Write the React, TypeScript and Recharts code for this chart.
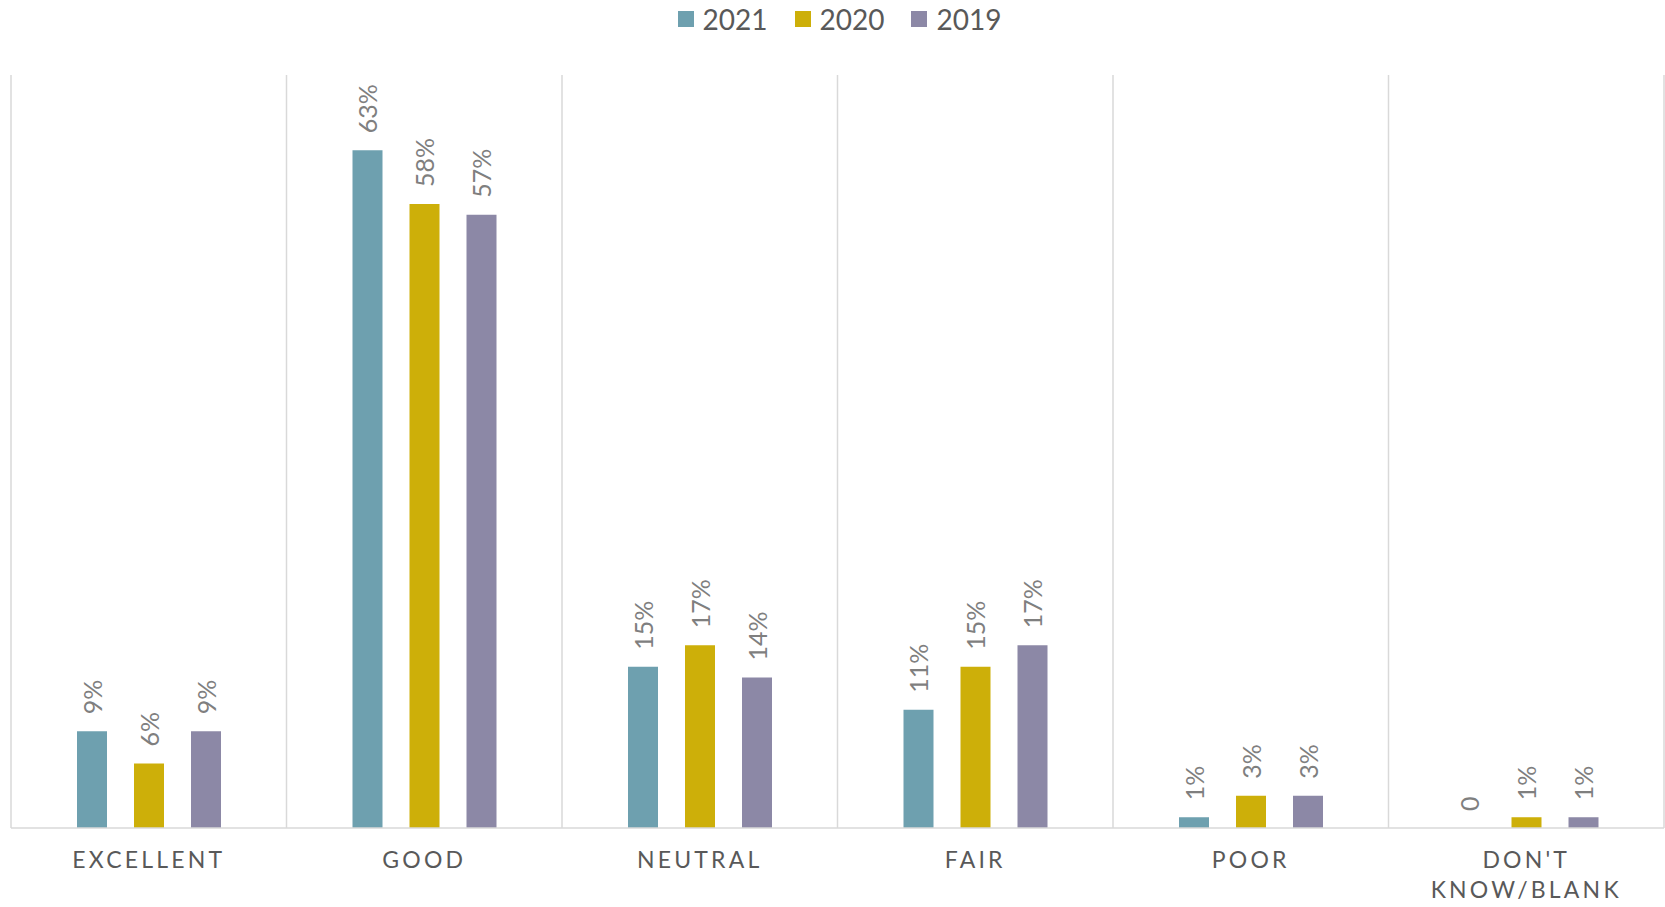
import React from "react";
import { BarChart, Bar, XAxis, YAxis, CartesianGrid, Legend, LabelList } from "recharts";

const categories = ["EXCELLENT", "GOOD", "NEUTRAL", "FAIR", "POOR", "DON'T KNOW/BLANK"];
const values2021 = [9, 63, 15, 11, 1, 0];
const values2020 = [6, 58, 17, 15, 3, 1];
const values2019 = [9, 57, 14, 17, 3, 1];
const seriesNames = ["2021", "2020", "2019"];
const seriesColors = ["#6EA0AF", "#CDAF09", "#8C88A6"];

const data = categories.map((c, i) => ({
  name: c,
  y2021: values2021[i],
  y2020: values2020[i],
  y2019: values2019[i],
}));

const FONT = "Lato, 'Open Sans', sans-serif";

const renderLabel = (props: any) => {
  const { x, y, width, value } = props;
  if (value === undefined || value === null) return null;
  const cx = Number(x) + Number(width) / 2;
  const ty = Number(y) - 17;
  const text = Number(value) === 0 ? "0" : `${value}%`;
  return (
    <text
      x={cx}
      y={ty}
      transform={`rotate(-90, ${cx}, ${ty})`}
      textAnchor="start"
      dominantBaseline="central"
      fill="#7F7F7F"
      fontSize={25}
      fontFamily={FONT}
    >
      {text}
    </text>
  );
};

const renderTick = (props: any) => {
  const { x, payload } = props;
  const label: string = payload.value;
  const lines = label.includes(" ") ? label.split(" ") : [label];
  return (
    <g>
      {lines.map((ln, i) => (
        <text
          key={i}
          x={x}
          y={828 + 31 + i * 30}
          textAnchor="middle"
          dominantBaseline="central"
          fill="#595959"
          fontSize={23}
          letterSpacing={3.2}
          fontFamily={FONT}
        >
          {ln}
        </text>
      ))}
    </g>
  );
};

const renderLegend = () => (
  <div
    style={{
      display: "flex",
      justifyContent: "center",
      alignItems: "center",
      height: 38,
      fontFamily: FONT,
      fontSize: 28,
      color: "#595959",
      paddingLeft: 14,
    }}
  >
    {seriesNames.map((n, i) => (
      <div key={n} style={{ display: "flex", alignItems: "center", marginRight: i < 2 ? 27 : 0 }}>
        <div style={{ width: 16, height: 16, background: seriesColors[i], marginRight: 9 }} />
        <span style={{ lineHeight: "38px" }}>{n}</span>
      </div>
    ))}
  </div>
);

export default function App() {
  return (
    <div style={{ position: "absolute", left: 0, top: 0, width: 1665, height: 907, background: "#fff" }}>
      <BarChart
        width={1665}
        height={907}
        data={data}
        margin={{ top: 75, left: 11, right: 1, bottom: 0 }}
        barGap={27}
        barSize={30}
      >
        <CartesianGrid
          horizontal={false}
          vertical={true}
          stroke="#D9D9D9"
          strokeWidth={1.5}
          verticalCoordinatesGenerator={({ offset }: any) =>
            categories.map((_, i) => offset.left + (i * offset.width) / categories.length).concat([offset.left + offset.width])
          }
        />
        <XAxis
          dataKey="name"
          height={79}
          axisLine={{ stroke: "#D9D9D9", strokeWidth: 1.5 }}
          tickLine={false}
          tick={renderTick}
          interval={0}
        />
        <YAxis hide domain={[0, 70]} />
        <Legend
          layout="horizontal"
          verticalAlign="middle"
          align="center"
          content={renderLegend}
          wrapperStyle={{ top: 0, left: 0, width: 1665, height: 38 }}
        />
        <Bar
          dataKey="y2021"
          name="2021"
          fill={seriesColors[0]}
          isAnimationActive={false}
          minPointSize={(v: any) => (Number(v) === 0 ? 0.01 : 0)}
        >
          <LabelList dataKey="y2021" content={renderLabel} />
        </Bar>
        <Bar dataKey="y2020" name="2020" fill={seriesColors[1]} isAnimationActive={false}>
          <LabelList dataKey="y2020" content={renderLabel} />
        </Bar>
        <Bar dataKey="y2019" name="2019" fill={seriesColors[2]} isAnimationActive={false}>
          <LabelList dataKey="y2019" content={renderLabel} />
        </Bar>
      </BarChart>
    </div>
  );
}
